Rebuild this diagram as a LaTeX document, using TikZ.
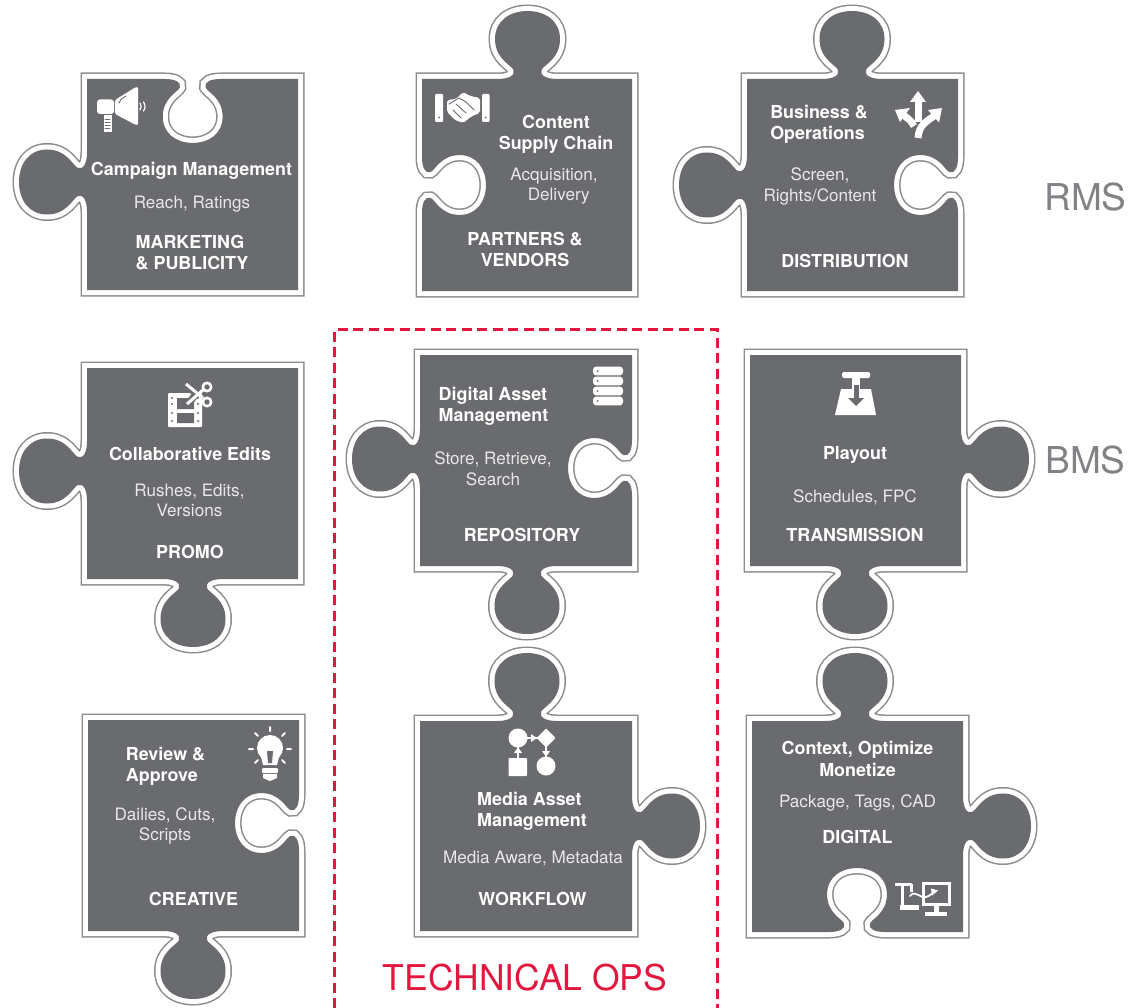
\documentclass[tikz,border=0pt]{standalone}
\usepackage{fontspec}
\setmainfont{TeX Gyre Heros}
\definecolor{pgray}{HTML}{6A6B6E}
\definecolor{pline}{HTML}{8A8B8D}
\definecolor{ptext}{HTML}{E8E8E9}
\definecolor{lblgray}{HTML}{808285}
\definecolor{opsred}{HTML}{E3173E}
\tikzset{
  bs/.style n args={5}{shift={(#1,#2)},rotate=#3,xscale=#4,yscale=#5},
  headtxt/.style={text=white,font={\fontsize{17.9}{21.3}\selectfont\bfseries},inner sep=0pt,align=center},
  headleft/.style={headtxt,align=left},
  subtxt/.style={text=ptext,font={\fontsize{17.1}{20.7}\selectfont},inner sep=0pt,align=center},
  sidetxt/.style={text=lblgray,font={\fontsize{37}{40}\selectfont},inner sep=0pt},
  icon/.style={fill=white,draw=none},
  iconline/.style={draw=white,line cap=round,line join=round},
  cutline/.style={draw=pgray,line cap=round},
}
\newcommand\seg[5]{%
 -- ([bs={#1}{#2}{#3}{#4}{#5}]-30,0)
 .. controls ([bs={#1}{#2}{#3}{#4}{#5}]-20,0) and ([bs={#1}{#2}{#3}{#4}{#5}]-12,-3) .. ([bs={#1}{#2}{#3}{#4}{#5}]-14,-9)
 .. controls ([bs={#1}{#2}{#3}{#4}{#5}]-16,-14) and ([bs={#1}{#2}{#3}{#4}{#5}]-32.5,-20) .. ([bs={#1}{#2}{#3}{#4}{#5}]-32.5,-40)
 .. controls ([bs={#1}{#2}{#3}{#4}{#5}]-32.5,-58) and ([bs={#1}{#2}{#3}{#4}{#5}]-18,-68) .. ([bs={#1}{#2}{#3}{#4}{#5}]0,-68)
 .. controls ([bs={#1}{#2}{#3}{#4}{#5}]18,-68) and ([bs={#1}{#2}{#3}{#4}{#5}]32.5,-58) .. ([bs={#1}{#2}{#3}{#4}{#5}]32.5,-40)
 .. controls ([bs={#1}{#2}{#3}{#4}{#5}]32.5,-20) and ([bs={#1}{#2}{#3}{#4}{#5}]16,-14) .. ([bs={#1}{#2}{#3}{#4}{#5}]14,-9)
 .. controls ([bs={#1}{#2}{#3}{#4}{#5}]12,-3) and ([bs={#1}{#2}{#3}{#4}{#5}]20,0) .. ([bs={#1}{#2}{#3}{#4}{#5}]30,0)
}
\newcommand\tabedge[3]{\seg{#1}{#2}{#3}{1}{1}}
\newcommand\notchedge[3]{\seg{#1}{#2}{#3}{.92}{-.94}}
\newcommand\piece[1]{%
  \draw[draw=pline,line width=13pt,miter limit=4] #1;
  \draw[draw=white,line width=10pt,miter limit=4] #1;
  \fill[pgray] #1;
}
\begin{document}
\begin{tikzpicture}[x=1pt,y=-1pt]
\useasboundingbox (0,0) rectangle (1131,1008);
\fill[white] (0,0) rectangle (1131,1008);

% Technical ops frame
\draw[opsred,line width=3pt,dash pattern=on 10pt off 5.5pt] (334,1008) -- (334,329.5) -- (717,329.5) -- (717,1008);

% pieces
\piece{(87,79) \notchedge{192.7}{79}{0} -- (298,79) -- (298,290) -- (87,290) \tabedge{87}{182}{90} -- cycle}
\piece{(422,79) \tabedge{527.5}{79}{0} -- (632,79) -- (632,291) -- (422,291) \notchedge{422}{185}{90} -- cycle}
\piece{(747,79) \tabedge{852}{79}{0} -- (958,79) \notchedge{958}{185}{-90} -- (958,291) -- (747,291) \tabedge{747}{185}{90} -- cycle}
\piece{(87,368) -- (298,368) -- (298,579) \tabedge{193}{579}{180} -- (87,579) \tabedge{87}{471}{90} -- cycle}
\piece{(420,355) -- (632,355) \notchedge{632}{468}{-90} -- (632,566) \tabedge{527}{566}{180} -- (420,566) \tabedge{420}{459}{90} -- cycle}
\piece{(750,355) -- (961,355) \tabedge{961}{459}{-90} -- (961,566) \tabedge{855}{566}{180} -- (750,566) -- cycle}
\piece{(88,720) -- (299,720) \notchedge{299}{823}{-90} -- (299,931) \tabedge{193}{931}{180} -- (88,931) -- cycle}
\piece{(420,721) \tabedge{527}{721}{0} -- (632,721) \tabedge{632}{826}{-90} -- (632,931) -- (420,931) -- cycle}
\piece{(752,721) \tabedge{855}{721}{0} -- (963,721) \tabedge{963}{826}{-90} -- (963,932) \notchedge{857}{932}{180} -- (752,932) -- cycle}

% megaphone
\fill[icon,rounded corners=1.5pt] (115,100) -- (136,87) -- (138,87) -- (138,125) -- (136,125) -- (115,114) -- cycle;
\fill[icon,rounded corners=3pt] (97,99.5) rectangle (114,114);
\fill[icon] (103.5,115) rectangle (111.5,132);
\draw[cutline,line width=.8pt] (105,119) -- (110,119) (105,122) -- (110,122) (105,125) -- (110,125) (105,128) -- (110,128);
\draw[cutline,line width=.9pt] (119,103) .. controls (121,99) and (123,97) .. (126,96);
\draw[iconline,line width=1.2pt] (140,103) .. controls (141.5,105) and (141.5,108) .. (140,110);
\draw[iconline,line width=1.2pt] (143.5,102) .. controls (145.5,105) and (145.5,108) .. (143.5,111);

% handshake
\fill[icon,rounded corners=1pt] (435,94) rectangle (443,122);
\fill[icon,rounded corners=1pt] (482,94) rectangle (489.5,122);
\fill[pgray] (439,117.5) circle (1pt) (485.5,117.5) circle (1pt);
\fill[icon,rounded corners=2pt] (447,100) -- (456,99) -- (463,92) -- (470,96) -- (480,98) -- (480,113) -- (472,116) -- (463,123) -- (455,120) -- (447,112) -- cycle;
\draw[cutline,line width=.9pt] (449,104) -- (459,98) -- (466,102) -- (474,110) (456,104) -- (466,113) (453,110) -- (461,118);

% arrows
\draw[iconline,line width=7pt,line cap=butt] (918,138) .. controls (919,125) and (926,122) .. (934,116);
\draw[iconline,line width=7pt,line cap=butt] (914,126) .. controls (911,120) and (907,118) .. (902,114);
\draw[iconline,line width=7pt,line cap=butt] (918,122) -- (918,100);
\fill[icon] (918,91) -- (926,102) -- (910,102) -- cycle;
\fill[icon] (942,108) -- (939,122.5) -- (928,110) -- cycle;
\fill[icon] (895,110) -- (910,108) -- (900,122) -- cycle;

% film + scissors
\fill[icon,rounded corners=1pt] (168,393) rectangle (202,427);
\fill[pgray] (177,398) rectangle (194,409) (177,413) rectangle (194,423);
\foreach \fy in {398,404,413,421}{\fill[pgray] (172,\fy) circle (1.1pt) (198,\fy) circle (1.1pt);}
\draw[pgray,line width=7pt] (184,382) -- (198,396) (186,406) -- (198,392);
\draw[iconline,line width=3pt,line cap=butt] (186,384) -- (203,398);
\draw[iconline,line width=3pt,line cap=butt] (187,404) -- (203,390);
\draw[iconline,line width=2.6pt,fill=pgray] (207,387) circle (4.2pt) (207,402) circle (4.2pt);

% database
\foreach \dy in {371,381,391,401}{
  \fill[icon,rounded corners=3.2pt] (593,\dy-4.4) rectangle (623,\dy+4.4);
  \fill[pgray] (597.5,\dy) circle (1pt);
}

% playout
\fill[icon,rounded corners=1.5pt] (842,372) rectangle (870,378);
\fill[icon] (852,377) rectangle (860,390);
\fill[icon] (841,389) -- (871,389) -- (876,415) -- (835,415) -- cycle;
\fill[pgray] (853.5,385) rectangle (858.5,398);
\fill[pgray] (848,398) -- (864,398) -- (856,406) -- cycle;

% lightbulb
\fill[icon] (270,748) circle (13pt);
\fill[icon] (261,757) -- (279,757) -- (277,765) -- (263,765) -- cycle;
\fill[pgray] (267,751) -- (268,763) -- (272,763) -- (273,751) -- cycle;
\fill[icon,rounded corners=1pt] (262,768) rectangle (278,773);
\fill[icon] (263,774) -- (277,774) -- (277,778) -- (270,781) -- (263,778) -- cycle;
\draw[iconline,line width=2pt]
  (270,727) -- (270,731) (285,733) -- (282,736) (255,733) -- (258,736)
  (249,749) -- (253,749) (291,749) -- (287,749) (255,763) -- (258,760) (285,763) -- (282,760);

% flow
\draw[iconline,line width=1.8pt] (518,738) -- (546,738) -- (546,766) (518,738) -- (518,766);
\fill[icon] (518,738) circle (9.5pt);
\fill[icon,rounded corners=1pt] (546,728.5) -- (555.5,738) -- (546,747.5) -- (536.5,738) -- cycle;
\fill[icon,rounded corners=.8pt] (508.5,758) rectangle (527,776);
\fill[icon] (546,766) circle (9.5pt);
\fill[icon] (537,738) -- (531,734) -- (531,742) -- cycle;
\fill[icon] (518,747) -- (514,753) -- (522,753) -- cycle;
\fill[icon] (546,757) -- (542,751) -- (550,751) -- cycle;

% devices
\draw[iconline,line width=3pt,line cap=butt] (895,884.5) -- (911,884.5) -- (911,892) (902,885) -- (902,907) -- (919,907);
\fill[icon] (900,905) rectangle (919,910);
\draw[iconline,line width=3pt,line join=miter] (923,883) rectangle (949,904);
\fill[icon] (933.5,905) rectangle (938.5,912);
\fill[icon] (925,912) rectangle (947,916);
\draw[iconline,line width=1.8pt] (910,896) .. controls (915,889) and (920,899) .. (926,897) .. controls (930,896) and (932,893) .. (934,892);
\fill[icon] (938,890.5) -- (931,888.5) -- (932,895.5) -- cycle;

% texts
\node[headtxt]  (t1a) at (191.5,170.5) {Campaign Management};
\node[subtxt]   (t1b) at (192,204.5) {Reach, Ratings};
\node[headleft] (t1c) at (192,252.5) {MARKETING\\\& PUBLICITY};

\node[headtxt]  (t2a) at (556,134.5) {Content\\Supply Chain};
\node[subtxt]   (t2b) at (554,186) {Acquisition,\\\ \ Delivery};
\node[headtxt]  (t2c) at (525,249.5) {PARTNERS \&\\VENDORS};

\node[headleft] (t3a) at (819,124.5) {Business \&\\Operations};
\node[subtxt]   (t3b) at (820,186.5) {Screen,\\Rights/Content};
\node[headtxt]  (t3c) at (845,261) {DISTRIBUTION};

\node[headtxt]  (t4a) at (190,454) {Collaborative Edits};
\node[subtxt]   (t4b) at (189.5,500.5) {Rushes, Edits,\\Versions};
\node[headtxt]  (t4c) at (190,552) {PROMO};

\node[headleft] (t5a) at (493.5,406.5) {Digital Asset\\Management};
\node[subtxt]   (t5b) at (493,469) {Store, Retrieve,\\Search};
\node[headtxt]  (t5c) at (522,535) {REPOSITORY};

\node[headtxt]  (t6a) at (855,455) {Playout};
\node[subtxt]   (t6b) at (855,497.5) {Schedules, FPC};
\node[headtxt]  (t6c) at (855,535) {TRANSMISSION};

\node[headleft] (t7a) at (165.5,766.5) {Review \&\\Approve};
\node[subtxt]   (t7b) at (165,826) {Dailies, Cuts,\\Scripts};
\node[headtxt]  (t7c) at (193.5,899) {CREATIVE};

\node[headleft] (t8a) at (532,811.5) {Media Asset\\Management};
\node[subtxt]   (t8b) at (533,858.5) {Media Aware, Metadata};
\node[headtxt]  (t8c) at (532.5,899) {WORKFLOW};

\node[headtxt]  (t9a) at (857.5,759) {Context, Optimize\\Monetize};
\node[subtxt]   (t9b) at (857.5,802.5) {Package, Tags, CAD};
\node[headtxt]  (t9c) at (857.5,837) {DIGITAL};

\node[sidetxt] (rms) at (1085.5,197) {RMS};
\node[sidetxt] (bms) at (1085.5,460) {BMS};
\node[sidetxt,text=opsred,font={\fontsize{35.5}{40}\selectfont}] (ops) at (525,978) {TECHNICAL OPS};
\end{tikzpicture}
\end{document}
